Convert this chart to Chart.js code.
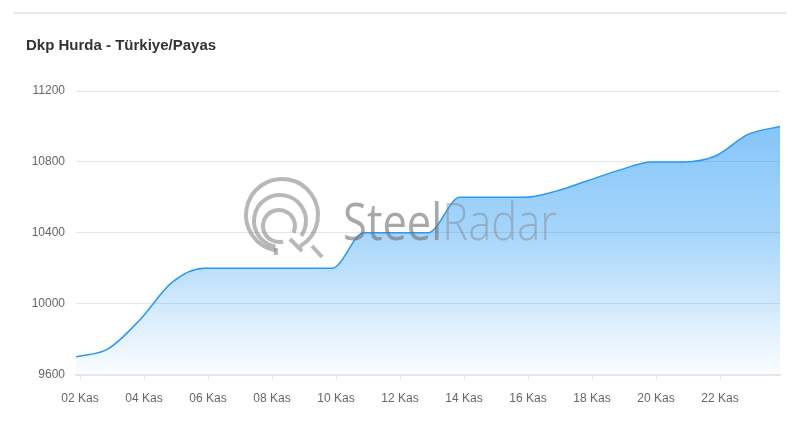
<!DOCTYPE html>
<html>
<head>
<meta charset="utf-8">
<script src="https://cdn.jsdelivr.net/npm/chart.js@4.4.1/dist/chart.umd.min.js"></script>
<style>
  html, body { margin: 0; padding: 0; background: #fff; }
  #wrap { position: relative; width: 800px; height: 425px; overflow: hidden; }
  #topline { position: absolute; left: 14px; top: 12px; width: 772px; height: 2px; background: #e8e8e8; }
  #title { position: absolute; left: 26px; top: 36px; font: bold 15px "Liberation Sans", Arial, sans-serif; color: #333; white-space: nowrap; }
  #priceChart { position: absolute; left: 0; top: 0; }
</style>
</head>
<body>
<div id="wrap">
  <div id="topline"></div>
  <canvas id="priceChart" width="800" height="425"></canvas>
  <div id="title">Dkp Hurda - Türkiye/Payas</div>
</div>
<script>
// daily values, 02 Kas .. 24 Kas
const days   = [2, 3, 4, 5, 6, 7, 8, 9, 10, 11, 12, 13, 14, 15, 16, 17, 18, 19, 20, 21, 22, 23, 24];
const prices = [9700, 9745, 9910, 10120, 10200, 10200, 10200, 10200, 10200, 10400, 10400, 10400,
                10600, 10600, 10600, 10635, 10695, 10755, 10800, 10800, 10835, 10955, 11000];

const tickDays   = [2, 4, 6, 8, 10, 12, 14, 16, 18, 20, 22];
const tickLabels = ["02 Kas", "04 Kas", "06 Kas", "08 Kas", "10 Kas", "12 Kas",
                    "14 Kas", "16 Kas", "18 Kas", "20 Kas", "22 Kas"];
const yTicks = [9600, 10000, 10400, 10800, 11200];

// ticks sit 3 hours after the data points (timezone offset in the original)
const TICK_SHIFT = 0.125;

// SteelRadar watermark drawn over the area
const watermark = {
    id: "watermark",
    afterDatasetsDraw(chart) {
        const ctx = chart.ctx;
        ctx.save();
        ctx.strokeStyle = "rgba(125,125,125,0.55)";
        ctx.lineWidth = 4;
        ctx.lineCap = "butt";
        const deg = Math.PI / 180;
        ctx.beginPath();
        ctx.arc(282, 215, 36, 100 * deg, 420 * deg);
        ctx.stroke();
        ctx.beginPath();
        ctx.arc(280, 221, 26, 100 * deg, 395 * deg);
        ctx.stroke();
        ctx.beginPath();
        ctx.arc(279, 226, 16, 75 * deg, 385 * deg);
        ctx.stroke();
        // tails
        ctx.beginPath();
        ctx.moveTo(276, 248); ctx.lineTo(276, 255);
        ctx.moveTo(290, 239); ctx.lineTo(302, 251);
        ctx.moveTo(312, 246); ctx.lineTo(322, 257);
        ctx.stroke();

        ctx.textBaseline = "alphabetic";
        ctx.font = '52px "Open Sans", sans-serif';
        const w1 = ctx.measureText("Steel").width;
        const w2 = ctx.measureText("Radar").width;
        const sx = 219 / (w1 + w2);
        ctx.translate(343, 240);
        ctx.scale(sx, 1);
        ctx.fillStyle = "rgba(115,115,115,0.62)";
        ctx.fillText("Steel", 0, 0);
        ctx.font = '300 52px "Open Sans", sans-serif';
        ctx.fillStyle = "rgba(120,120,120,0.4)";
        ctx.fillText("Radar", w1, 0);
        ctx.restore();
    }
};

const ctx = document.getElementById("priceChart").getContext("2d");
new Chart(ctx, {
    type: "line",
    data: {
        datasets: [{
            label: "Dkp Hurda",
            data: days.map((d, i) => ({ x: d, y: prices[i] })),
            borderColor: "rgb(44,152,240)",
            borderWidth: 1.5,
            pointRadius: 0,
            pointHoverRadius: 0,
            cubicInterpolationMode: "monotone",
            fill: "start",
            backgroundColor: (context) => {
                const { ctx, chartArea } = context.chart;
                if (!chartArea) return "rgba(33,150,243,0.4)";
                const g = ctx.createLinearGradient(0, chartArea.top, 0, chartArea.bottom);
                g.addColorStop(0, "rgba(33,150,243,0.6)");
                g.addColorStop(0.5, "rgba(33,150,243,0.4)");
                g.addColorStop(1, "rgba(33,150,243,0.02)");
                return g;
            }
        }]
    },
    options: {
        responsive: false,
        animation: false,
        layout: { padding: { left: 0, right: 20, top: 91, bottom: 7 } },
        plugins: {
            legend: { display: false },
            tooltip: { enabled: false }
        },
        scales: {
            x: {
                type: "linear",
                min: days[0],
                max: days[days.length - 1],
                afterBuildTicks: (scale) => {
                    scale.ticks = tickDays.map(d => ({ value: d + TICK_SHIFT }));
                },
                grid: {
                    drawOnChartArea: false,
                    drawTicks: true,
                    tickLength: 5,
                    color: "#e6e6e6"
                },
                border: { display: true, color: "#e6e6e6", width: 2 },
                ticks: {
                    autoSkip: false,
                    maxRotation: 0,
                    padding: 12,
                    color: "#666",
                    font: { family: "'Liberation Sans', Arial, sans-serif", size: 12 },
                    callback: (value) => tickLabels[tickDays.indexOf(Math.round(value - TICK_SHIFT))]
                }
            },
            y: {
                min: yTicks[0],
                max: yTicks[yTicks.length - 1],
                afterBuildTicks: (scale) => {
                    scale.ticks = yTicks.map(v => ({ value: v }));
                },
                afterFit: (scale) => { scale.width = 76; },
                grid: { color: "#e6e6e6", lineWidth: 1, drawTicks: false },
                border: { display: false },
                ticks: {
                    padding: 11,
                    color: "#666",
                    font: { family: "'Liberation Sans', Arial, sans-serif", size: 12 },
                    callback: (value) => String(value)
                }
            }
        }
    },
    plugins: [watermark]
});
</script>
</body>
</html>
